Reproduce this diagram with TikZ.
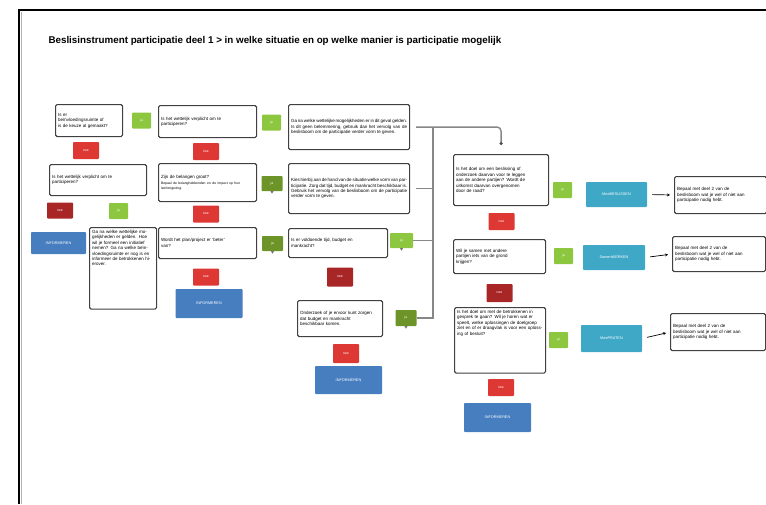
\documentclass[tikz,border=0pt]{standalone}
\usepackage{fontspec}
\setmainfont{Liberation Sans}
\usetikzlibrary{arrows.meta, positioning, calc}

\definecolor{jagroen}{RGB}{141, 198, 63}
\definecolor{jadonker}{RGB}{108, 148, 40}
\definecolor{neerood}{RGB}{221, 56, 52}
\definecolor{needonker}{RGB}{168, 38, 38}
\definecolor{infoblauw}{RGB}{70, 126, 192}
\definecolor{vormblauw}{RGB}{62, 168, 198}
\definecolor{lijngrijs}{RGB}{135, 135, 135}

\begin{document}
\begin{tikzpicture}[x=1pt, y=-1pt,
  vraagbox/.style={draw=black!75, line width=1.1pt, rounded corners=1.5pt, fill=white, anchor=north west, inner sep=2.5pt, align=left, font=\fontsize{4.5}{5.4}\selectfont},
  keuzebox/.style={text=white, inner sep=0pt, rounded corners=0.8pt, font=\fontsize{3.4}{4}\selectfont},
  jabox/.style={keuzebox, fill=jagroen, minimum width=19pt, minimum height=16pt},
  jadonkerbox/.style={keuzebox, fill=jadonker, minimum width=21pt, minimum height=15pt},
  neebox/.style={keuzebox, fill=neerood, minimum width=26pt, minimum height=17pt},
  needonkerbox/.style={keuzebox, fill=needonker, minimum width=26pt, minimum height=16pt},
  infobox/.style={keuzebox, fill=infoblauw, minimum width=67pt, minimum height=29pt, font=\fontsize{3.8}{4.5}\selectfont},
  vormbox/.style={keuzebox, fill=vormblauw, minimum width=61pt, minimum height=26pt, font=\fontsize{3.8}{4.5}\selectfont},
  lijn/.style={draw=lijngrijs, line width=1.4pt},
  pijl/.style={-{Stealth[length=3pt, width=3pt]}, line width=0.7pt, shorten <=5pt, shorten >=4pt}
]
  \useasboundingbox (0,0) rectangle (766,504);

  % Kader en titel
  \draw[line width=2pt] (19,504) -- (19,10) -- (766,10);
  \draw[black!30, line width=1pt] (21.5,504) -- (21.5,11.5);
  \node[anchor=west, font=\bfseries\fontsize{9.8}{12}\selectfont] (titel) at (45,41)
    {Beslisinstrument participatie deel 1 > in welke situatie en op welke manier is participatie mogelijk};

  % Kolom 1
  \node[vraagbox, text width=62pt, minimum height=32pt] (a1) at (55,104) {
    Is er\\
    beïnvloedingsruimte of\\
    is de keuze al gemaakt?
  };
  \node[jabox] (jaa1) at (141.5,120.5) {ja};
  \node[neebox] (neea1) at (86,150.5) {nee};
  \node[vraagbox, text width=92pt, minimum height=31pt] (a2) at (49,164) {
    Is het wettelijk verplicht om te\\
    participeren?
  };
  \node[needonkerbox] (neea2) at (60,210.5) {nee};
  \node[jabox] (jaa2) at (118.5,211) {ja};
  \node[infobox, minimum width=55pt, minimum height=22pt] (infoa) at (58.5,243) {INFORMEREN};
  \node[vraagbox, text width=62pt, text height=3.5pt, text depth=73pt] (a3) at (89,227) {
    Ga na welke wettelijke mogelijkheden er gelden. Hoe wil je formeel een initiatief nemen? Ga na welke beïnvloedingsruimte er nog is en informeer de betrokkenen hierover.
  };

  % Kolom 2
  \node[vraagbox, text width=93pt, minimum height=32pt] (b1) at (158,105) {
    Is het wettelijk verplicht om te\\
    participeren?
  };
  \node[jabox] (jab1) at (271.5,122.5) {ja};
  \node[neebox] (neeb1) at (206,151.5) {nee};
  \node[vraagbox, text width=93pt, minimum height=38pt] (b2) at (158,163) {
    Zijn de belangen groot?\\[2pt]
    {\fontsize{3.4}{4.2}\selectfont Bepaal de belanghebbenden en de impact op hun\\ leefomgeving.}
  };
  \node[jadonkerbox] (jab2) at (272,183.5) {ja};
  \node[neebox] (neeb2) at (206,214) {nee};
  \node[vraagbox, text width=93pt, minimum height=31pt] (b3) at (158,227) {
    Wordt het plan/project er ‘beter’\\
    van?
  };
  \node[jadonkerbox] (jab3) at (272.5,243.5) {ja};
  \node[neebox] (neeb3) at (206,277) {nee};
  \node[infobox] (infob) at (209,303.5) {INFORMEREN};

  % Kolom 3
  \node[vraagbox, text width=116pt, minimum height=45pt, align=justify] (c1) at (288,104) {
    Ga na welke wettelijke mogelijkheden er in dit geval gelden. Is dit geen belemmering, gebruik dan het vervolg van de beslisboom om de participatie verder vorm te geven.
  };
  \node[vraagbox, text width=116pt, minimum height=50pt, align=justify] (c2) at (288,163) {
    Kies hierbij aan de hand van de situatie welke vorm van participatie. Zorg dat tijd, budget en mankracht beschikbaar is. Gebruik het vervolg van de beslisboom om de participatie verder vorm te geven.
  };
  \node[vraagbox, text width=94pt, minimum height=29pt] (c3) at (288,228) {
    Is er voldoende tijd, budget en\\
    mankracht?
  };
  \node[jabox, minimum width=23pt, minimum height=15pt] (jac3) at (401.5,240.5) {ja};
  \node[needonkerbox, minimum height=19pt] (neec3) at (340,277) {nee};
  \node[vraagbox, text width=80pt, minimum height=36pt] (c4) at (297,300) {
    Onderzoek of je ervoor kunt zorgen\\
    dat budget en mankracht\\
    beschikbaar komen.
  };
  \node[jadonkerbox, minimum height=16pt] (jac4) at (406,318) {ja};
  \node[neebox, minimum height=19pt] (neec4) at (346,353.5) {nee};
  \node[infobox, minimum height=28pt] (infoc) at (348.5,380) {INFORMEREN};

  % Kolom 4
  \node[vraagbox, text width=90pt, minimum height=51pt] (d1) at (453,154) {
    Is het doel om een beslissing of\\
    onderzoek daarvan voor te leggen\\
    aan de andere partijen? Wordt de\\
    uitkomst daarvan overgenomen\\
    door de raad?
  };
  \node[jabox] (jad1) at (562.5,190) {ja};
  \node[neebox] (need1) at (501.5,221.5) {nee};
  \node[vraagbox, text width=87pt, minimum height=34pt] (d2) at (453,239) {
    Wil je samen met andere\\
    partijen iets van de grond\\
    krijgen?
  };
  \node[jabox] (jad2) at (563.5,256) {ja};
  \node[needonkerbox, minimum height=18pt] (need2) at (499.5,293) {nee};
  \node[vraagbox, text width=86pt, text height=3.5pt, text depth=57pt] (d3) at (454,307) {
    Is het doel om met de betrokkenen in gesprek te gaan? Wil je horen wat er speelt, welke oplossingen de doelgroep ziet en of er draagvlak is voor een oplossing of besluit?
  };
  \node[jabox] (jad3) at (558.5,340) {ja};
  \node[neebox] (need3) at (501,387.5) {nee};
  \node[infobox] (infod) at (497.5,417.5) {INFORMEREN};

  % Vormen van participatie
  \node[vormbox, minimum height=25pt] (t1) at (616.5,194.5) {MeeBESLISSEN};
  \node[vormbox, minimum width=62pt, minimum height=25pt] (t2) at (614,257.5) {SamenWERKEN};
  \node[vormbox, minimum height=27pt] (t3) at (611.5,338.5) {MeePRATEN};

  \node[vraagbox, text width=87pt, minimum height=37pt] (e1) at (674,176) {
    Bepaal met deel 2 van de\\
    beslisboom wat je wel of niet aan\\
    participatie nodig hebt.
  };
  \node[vraagbox, text width=88pt, minimum height=35pt] (e2) at (672,236) {
    Bepaal met deel 2 van de\\
    beslisboom wat je wel of niet aan\\
    participatie nodig hebt.
  };
  \node[vraagbox, text width=90pt, minimum height=37pt] (e3) at (670,313) {
    Bepaal met deel 2 van de\\
    beslisboom wat je wel of niet aan\\
    participatie nodig hebt.
  };

  % Puntjes onder de ja-knoppen
  \foreach \k in {jab2, jab3, jac3, jac4}
    \fill[black!55] ([xshift=-1.5pt]\k.south) -- ([xshift=1.5pt]\k.south) -- ([yshift=-2.5pt]\k.south) -- cycle;

  % Verbindingen
  \coordinate (splits) at (433,128);
  \draw[lijn, rounded corners=4pt, -{Circle[length=3pt, black!70]}, shorten <=6pt, shorten >=9pt] (c1.east) -| (d1.north);
  \draw[lijn] (c1.east -| splits) -- (jac4.east -| splits) -- (jac4.east);
  \draw[lijn, shorten <=6pt] (c2.east) -- (c2.east -| splits);
  \draw[lijn] (jac3.east) -- (jac3.east -| splits);

  \draw[pijl] (t1.east) -- (e1.west);
  \draw[pijl] (t2.east) -- (e2.west);
  \draw[pijl] (t3.east) -- (e3.west);
\end{tikzpicture}
\end{document}
